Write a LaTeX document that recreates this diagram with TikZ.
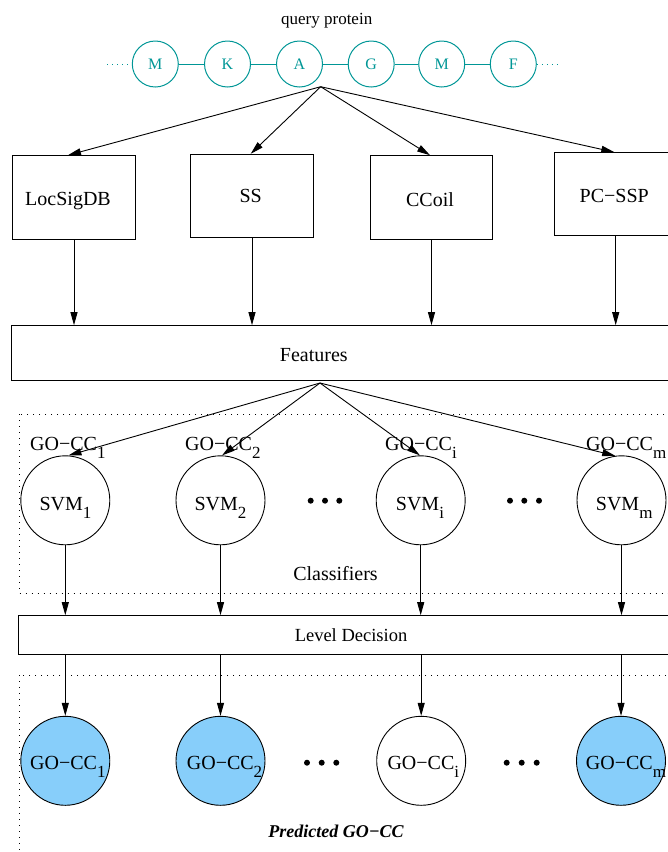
\documentclass[tikz,border=0pt]{standalone}
\usepackage{fontspec}
\setmainfont{Liberation Serif}
\usetikzlibrary{arrows.meta}
\definecolor{teal0}{RGB}{0,150,150}
\definecolor{skyfill}{RGB}{135,206,250}
\newcommand{\sbs}[1]{\raisebox{-8pt}{\fontsize{17}{17}\selectfont #1}}
\begin{document}
\begin{tikzpicture}[x=1pt,y=-1pt,
  every node/.style={font=\fontsize{20}{24}\selectfont},
  arr/.style={-{Triangle[length=13pt,width=7pt]}, line width=0.9pt},
  fbox/.style={draw, line width=1pt, minimum width=122.6pt, inner sep=0pt},
  wbox/.style={draw, line width=1pt, inner sep=0pt},
  aa/.style={circle, draw=teal0, line width=1pt, minimum size=46pt, inner sep=0pt, text=teal0, font=\fontsize{16}{18}\selectfont},
  svm/.style={circle, draw, line width=0.9pt, minimum size=89pt, inner sep=0pt},
  lab/.style={anchor=base west, inner sep=0pt},
  dotbox/.style={line width=1pt, dash pattern=on 1pt off 5pt},
  bul/.style={fill=black}
]
\useasboundingbox (0,0) rectangle (668,852);
\clip (0,0) rectangle (668,852);

% query protein
\node[font=\fontsize{17}{20}\selectfont] (qp) at (326.7,20.5) {query protein};
\node[aa] (q1) at (155.3,64) {M};
\node[aa] (q2) at (227.5,64) {K};
\node[aa] (q3) at (299.5,64) {A};
\node[aa] (q4) at (371.2,64) {G};
\node[aa] (q5) at (441.7,64) {M};
\node[aa] (q6) at (513.3,64) {F};
\coordinate (qL) at (107.3,64);
\coordinate (qR) at (560,64);
\draw[teal0, line width=1pt, dash pattern=on 1pt off 4pt] (qL) -- (q1.west);
\draw[teal0, line width=1pt, dash pattern=on 1pt off 4pt] (q6.east) -- (qR);
\draw[teal0, line width=1pt] (q1) -- (q2) (q2) -- (q3) (q3) -- (q4) (q4) -- (q5) (q5) -- (q6);

\coordinate (apex1) at (320.7,86.7);

% feature boxes
\node[fbox, minimum height=83.6pt] (loc) at (74,197.5) {};
\node[fbox, minimum height=83pt] (ss) at (252,195.8) {};
\node[fbox, minimum height=83.6pt] (cc) at (431.5,197.5) {};
\node[fbox, minimum height=83.3pt] (pc) at (615.7,194.3) {};
\node (loct) at (68,200.8) {LocSigDB};
\node (sst) at (250.7,196.3) {SS};
\node (cct) at (430,200) {CCoil};
\node (pct) at (614.3,196) {PC−SSP};

\draw[arr] (apex1) -- (loct |- loc.north);
\draw[arr] (apex1) -- (sst |- ss.north);
\draw[arr] (apex1) -- (cct |- cc.north);
\draw[arr] (apex1) -- (pct |- pc.north);

% features
\node[wbox, minimum width=668.3pt, minimum height=55pt] (feat) at (345.85,353.2) {};
\node (featt) at (313.8,355) {Features};
\draw[arr] (loc.south) -- (loc.south |- feat.north);
\draw[arr] (ss.south) -- (ss.south |- feat.north);
\draw[arr] (cc.south) -- (cc.south |- feat.north);
\draw[arr] (pc.south) -- (pc.south |- feat.north);

\coordinate (apex2) at (320,383);

% classifiers
\draw[dotbox] (19.3,414) rectangle (690,593.7);
\node[svm] (s1) at (65.3,500.3) {};
\node[svm] (s2) at (220.5,500.3) {};
\node[svm] (si) at (420.7,500.3) {};
\node[svm] (sm) at (621.5,500.3) {};
\node[lab] (g1) at (30,450) {GO−CC\sbs{1}};
\node[lab] (g2) at (185,450) {GO−CC\sbs{2}};
\node[lab] (gi) at (385,450) {GO−CC\sbs{i}};
\node[lab] (gm) at (586,450) {GO−CC\sbs{m}};
\node[lab] (t1) at (39.3,510) {SVM\sbs{1}};
\node[lab] (t2) at (194.3,510) {SVM\sbs{2}};
\node[lab] (ti) at (395.7,510) {SVM\sbs{i}};
\node[lab] (tm) at (595.7,510) {SVM\sbs{m}};
\draw[arr] (apex2) -- (s1.86);
\draw[arr] (apex2) -- (s2.88);
\draw[arr] (apex2) -- (si.91);
\draw[arr] (apex2) -- (sm.98);
\foreach \x in {310.7,325,339.3,510,524.3,539} \fill[bul] (\x,500.7) circle (3);
\node (clst) at (335.5,573.3) {Classifiers};

% level decision
\node[wbox, minimum width=665.4pt, minimum height=38.3pt, font=\fontsize{18.5}{22}\selectfont] (lev) at (351,634.85) {Level Decision};
\draw[arr] (s1.south) -- (s1.south |- lev.north);
\draw[arr] (s2.south) -- (s2.south |- lev.north);
\draw[arr] (si.south) -- (si.south |- lev.north);
\draw[arr] (sm.south) -- (sm.south |- lev.north);

% predicted
\draw[dotbox] (19.3,675.3) rectangle (690,880);
\node[svm, fill=skyfill] (c1) at (65.3,760.8) {};
\node[svm, fill=skyfill] (c2) at (220.5,760.8) {};
\node[svm] (ci) at (421.2,760.8) {};
\node[svm, fill=skyfill] (cm) at (621,760.8) {};
\node[lab] (ct1) at (30,769) {GO−CC\sbs{1}};
\node[lab] (ct2) at (186.7,769) {GO−CC\sbs{2}};
\node[lab] (cti) at (387.3,769) {GO−CC\sbs{i}};
\node[lab] (ctm) at (585.7,769) {GO−CC\sbs{m}};
\draw[arr] (c1.north |- lev.south) -- (c1.north);
\draw[arr] (c2.north |- lev.south) -- (c2.north);
\draw[arr] (ci.north |- lev.south) -- (ci.north);
\draw[arr] (cm.north |- lev.south) -- (cm.north);
\foreach \x in {307,321.7,336.3,506.7,521.7,536.7} \fill[bul] (\x,762.7) circle (3);
\node[font=\fontsize{18}{22}\selectfont\bfseries\itshape] (pred) at (336,831) {Predicted GO−CC};
\end{tikzpicture}
\end{document}
